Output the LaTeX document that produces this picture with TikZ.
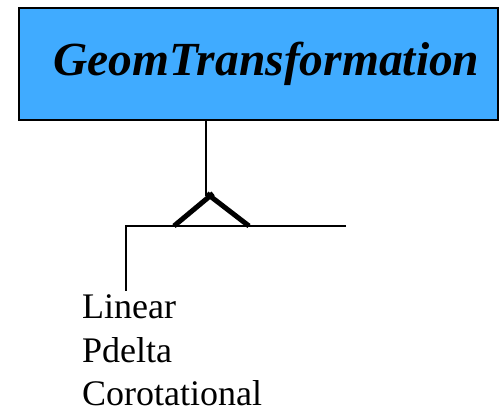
\documentclass[tikz,border=0pt]{standalone}
\usepackage{fontspec}
\setmainfont{Liberation Serif}
\definecolor{classblue}{RGB}{64,171,255}

\begin{document}
\begin{tikzpicture}[
    x=1pt, y=-1pt,
    classbox/.style={rectangle, draw=black, line width=1.5pt, fill=classblue, minimum width=479pt, minimum height=112pt, inner sep=0pt, font=\fontsize{47.5}{52}\selectfont\bfseries\itshape},
    subclass/.style={anchor=base west, inner sep=0pt, font=\fontsize{36}{43}\selectfont},
    link/.style={draw, line width=1.5pt},
    inherit/.style={draw, line width=5pt}
]
\useasboundingbox (0,0) rectangle (500,411);

\node[classbox] (geom) at (258.5,64) {\kern16pt GeomTransformation};

% inheritance hook
\coordinate (stem) at (206,196);
\coordinate (tip) at (210,196);
\coordinate (baseL) at (174,226);
\coordinate (baseR) at (249,226);
\coordinate (barL) at (126,226);
\coordinate (barR) at (346,226);
\coordinate (drop) at (126,291);

\node[subclass] (lin) at (82,318) {Linear};
\node[subclass] (pdel) at (82,362) {Pdelta};
\node[subclass] (corot) at (82,405) {Corotational};

% Connections
\path[link] (stem |- geom.south) -- (stem);
\path[inherit, shorten >=-4pt] (baseL) -- (tip);
\path[inherit, shorten >=-4pt] (baseR) -- (tip);
\path[link] (barR) -- (barL) -- (drop);

\end{tikzpicture}
\end{document}
